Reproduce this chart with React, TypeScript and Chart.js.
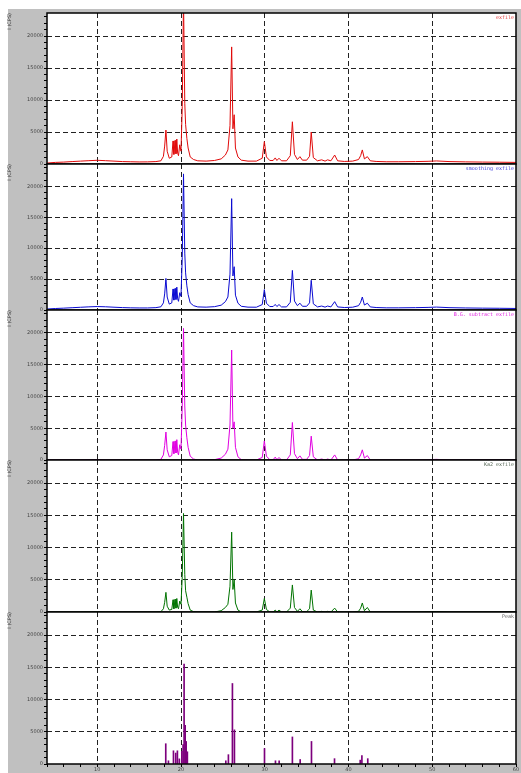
import React, { useEffect, useRef } from 'react';
import { Chart, registerables } from 'chart.js';

Chart.register(...registerables);
Chart.defaults.font.family = '"DejaVu Sans", sans-serif';

// 2θ (deg) sampling positions of the profiles
const twoTheta = [4, 5, 6, 7, 8, 9, 10, 11, 12, 13, 14, 15, 16, 17, 17.6, 17.9, 18.05, 18.2, 18.35, 18.6, 18.9, 19.05, 19.15, 19.3, 19.4, 19.5, 19.6, 19.7, 19.85, 20.0, 20.15, 20.3, 20.45, 20.55, 20.7, 20.85, 21.1, 21.5, 22, 23, 24, 24.8, 25.3, 25.6, 25.85, 26.05, 26.2, 26.35, 26.5, 26.8, 27.2, 28, 29, 29.7, 29.95, 30.2, 30.6, 31.0, 31.25, 31.45, 31.7, 32.0, 32.6, 33.05, 33.3, 33.55, 33.9, 34.2, 34.5, 35.0, 35.35, 35.55, 35.8, 36.3, 36.8, 37.2, 37.5, 37.9, 38.35, 38.7, 39.5, 40.5, 41.2, 41.45, 41.65, 41.9, 42.25, 42.6, 43.3, 44.5, 46, 48, 49.5, 50.5, 52, 54, 56, 58, 60];

const measured = [150, 250, 300, 380, 450, 520, 580, 520, 450, 380, 350, 320, 330, 380, 500, 1200, 2800, 5300, 2000, 900, 1100, 3600, 1500, 3700, 1600, 3900, 1700, 1300, 3000, 2000, 9000, 26000, 9500, 6200, 4000, 2500, 1100, 700, 500, 450, 550, 800, 1400, 2200, 6000, 18300, 5500, 7700, 2500, 1100, 600, 450, 450, 900, 3500, 1100, 550, 550, 950, 550, 900, 500, 500, 1300, 6600, 1500, 700, 1150, 600, 600, 1200, 5000, 1000, 500, 650, 450, 650, 500, 1400, 500, 400, 450, 700, 1300, 2200, 800, 1150, 500, 400, 350, 350, 380, 420, 480, 380, 330, 300, 280, 250];

const smoothed = [160, 240, 300, 370, 440, 510, 560, 520, 450, 390, 350, 330, 330, 380, 520, 1150, 2600, 5100, 2100, 950, 1150, 3400, 1600, 3500, 1700, 3700, 1800, 1400, 2800, 2200, 8500, 22000, 9200, 6000, 3900, 2500, 1150, 700, 500, 460, 540, 780, 1350, 2100, 5800, 18000, 5500, 7000, 2400, 1100, 600, 460, 450, 880, 3300, 1100, 560, 560, 900, 560, 880, 500, 500, 1250, 6400, 1450, 700, 1100, 600, 600, 1150, 4800, 1000, 500, 640, 460, 640, 500, 1350, 500, 400, 450, 700, 1250, 2100, 800, 1100, 500, 400, 350, 350, 380, 420, 470, 380, 330, 300, 280, 250];

const bgSubtracted = [0, 0, 0, 0, 0, 30, 50, 0, 0, 0, 0, 0, 0, 0, 100, 800, 2300, 4400, 1600, 500, 700, 2900, 1000, 3000, 1100, 3200, 1200, 800, 2400, 1700, 8500, 20700, 8500, 5500, 3500, 2000, 600, 150, 0, 0, 50, 300, 900, 1700, 5500, 17300, 5000, 6000, 2000, 500, 50, 0, 0, 400, 3000, 600, 50, 50, 450, 50, 400, 0, 0, 800, 5900, 1000, 200, 650, 100, 100, 700, 3750, 500, 0, 150, 0, 150, 0, 800, 0, 0, 0, 200, 800, 1600, 300, 700, 0, 0, 0, 0, 0, 50, 100, 0, 0, 0, 0, 0];

const ka2Removed = [0, 0, 0, 0, 0, 20, 40, 0, 0, 0, 0, 0, 0, 0, 50, 500, 1500, 3050, 900, 300, 400, 1900, 500, 2000, 600, 2100, 700, 500, 1700, 1200, 5500, 15300, 5800, 3300, 2300, 1300, 300, 50, 0, 0, 0, 200, 700, 1200, 4000, 12400, 3500, 5000, 1400, 300, 0, 0, 0, 300, 2100, 400, 0, 0, 300, 0, 300, 0, 0, 600, 4200, 700, 100, 500, 50, 50, 500, 3400, 300, 0, 100, 0, 100, 0, 600, 0, 0, 0, 100, 600, 1400, 200, 700, 0, 0, 0, 0, 0, 40, 80, 0, 0, 0, 0, 0];

// Peak list (stick pattern)
const peakPositions = [18.18, 18.5, 19.1, 19.37, 19.57, 19.8, 20.1, 20.25, 20.37, 20.5, 20.62, 20.76, 25.35, 25.66, 26.14, 26.38, 29.97, 31.28, 31.72, 33.3, 34.23, 35.58, 38.33, 41.4, 41.6, 42.3];
const peakHeights = [3150, 500, 2050, 1700, 2050, 800, 1950, 3000, 15500, 6000, 3500, 1900, 500, 1450, 12500, 5300, 2400, 500, 500, 4200, 700, 3500, 830, 600, 1300, 830];

const xTickLabels = [10, 20, 30, 40, 50, 60];
const yTickLabels = [0, 5000, 10000, 15000, 20000];
const yMinorTicks = [0, 1000, 2000, 3000, 4000, 5000, 6000, 7000, 8000, 9000, 10000, 11000, 12000, 13000, 14000, 15000, 16000, 17000, 18000, 19000, 20000, 21000, 22000, 23000];
const panelNames = ['exfile', 'smoothing exfile', 'B.G. subtract exfile', 'Ka2 exfile', 'Peak'];
const panelLineColors = ['rgb(225,10,10)', 'rgb(10,10,210)', 'rgb(225,0,225)', 'rgb(0,115,0)', 'rgb(125,0,125)'];
const panelNameColors = ['rgb(230,60,60)', 'rgb(60,60,220)', 'rgb(225,40,225)', '#556655', '#666666'];
const panelBounds = [13, 164, 310, 460, 612, 764];

const X_MIN = 4;
const X_MAX = 60;
const Y_MAX = 23600;

type PanelProps = { index: number };

function Panel({ index }: PanelProps) {
  const ref = useRef<HTMLCanvasElement | null>(null);
  const isLast = index === 4;
  const top = panelBounds[index];
  const h = panelBounds[index + 1] - top;
  const padTop = 4;
  const padBottom = isLast ? 0 : 4;
  const xAxisH = isLast ? 9 : 0;
  const canvasH = h + padTop + padBottom + xAxisH;

  useEffect(() => {
    if (!ref.current) return;
    const profiles = [measured, smoothed, bgSubtracted, ka2Removed];
    const color = panelLineColors[index];
    const framePlugin = {
      id: 'frame' + index,
      beforeDraw(chart: any) {
        const { ctx, chartArea: a } = chart;
        ctx.save();
        ctx.fillStyle = '#ffffff';
        ctx.fillRect(a.left, a.top, a.right - a.left, a.bottom - a.top);
        ctx.restore();
      },
      afterDraw(chart: any) {
        const { ctx, chartArea: a } = chart;
        ctx.save();
        ctx.strokeStyle = '#000';
        ctx.lineWidth = 1.5;
        ctx.strokeRect(a.left, a.top, a.right - a.left, a.bottom - a.top);
        ctx.fillStyle = panelNameColors[index];
        ctx.font = '5px "DejaVu Sans Mono", monospace';
        ctx.textAlign = 'right';
        ctx.textBaseline = 'top';
        ctx.fillText(panelNames[index], a.right - 2, a.top + 2);
        ctx.restore();
      },
    };

    const dataset: any = isLast
      ? {
          type: 'bar',
          data: peakPositions.map((x, i) => ({ x, y: peakHeights[i] })),
          backgroundColor: color,
          borderWidth: 0,
          barThickness: 1,
          grouped: false,
        }
      : {
          type: 'line',
          data: twoTheta.map((x, i) => ({ x, y: profiles[index][i] })),
          borderColor: color,
          borderWidth: 1,
          pointRadius: 0,
          tension: 0,
          fill: false,
        };

    const chart = new Chart(ref.current, {
      type: isLast ? 'bar' : 'line',
      data: { datasets: [dataset] },
      options: {
        responsive: false,
        maintainAspectRatio: false,
        animation: false,
        events: [],
        layout: { padding: { top: padTop, bottom: padBottom, left: 0, right: 5 } },
        plugins: { legend: { display: false }, tooltip: { enabled: false } },
        scales: {
          x: {
            type: 'linear',
            min: X_MIN,
            max: X_MAX,
            offset: false,
            afterFit: (s: any) => {
              s.height = xAxisH;
            },
            ticks: {
              display: isLast,
              stepSize: 2,
              autoSkip: false,
              maxRotation: 0,
              padding: 0,
              font: { size: 5 },
              color: '#444',
              callback: (v: any) => (xTickLabels.includes(Number(v)) ? String(v) : ''),
            },
            grid: {
              offset: false,
              color: (c: any) => {
                const v = c.tick ? c.tick.value : NaN;
                return v % 10 === 0 && v > X_MIN && v < X_MAX ? '#222' : 'transparent';
              },
              lineWidth: 1,
              drawTicks: isLast,
              tickLength: 3,
              tickColor: '#000',
            },
            border: { display: false, dash: [5, 3] },
          },
          y: {
            type: 'linear',
            min: 0,
            max: Y_MAX,
            afterBuildTicks: (s: any) => {
              s.ticks = yMinorTicks.map((v) => ({ value: v }));
            },
            afterFit: (s: any) => {
              s.width = 47;
            },
            ticks: {
              autoSkip: false,
              padding: 1,
              font: { size: 5 },
              color: '#444',
              callback: (v: any) => (yTickLabels.includes(Number(v)) ? String(v) : ''),
            },
            grid: {
              color: (c: any) => {
                const v = c.tick ? c.tick.value : NaN;
                return v > 0 && v % 5000 === 0 ? '#222' : 'transparent';
              },
              lineWidth: 1,
              drawTicks: true,
              tickLength: 3,
              tickColor: '#000',
            },
            border: { display: false, dash: [5, 3] },
            title: {
              display: true,
              text: 'I (CPS)',
              align: 'end',
              font: { size: 5 },
              color: '#333',
              padding: { top: 7, bottom: 0 },
            },
          },
        },
      } as any,
      plugins: [framePlugin],
    });
    return () => chart.destroy();
  }, []);

  return (
    <canvas
      ref={ref}
      width={521}
      height={canvasH}
      style={{ position: 'absolute', left: 0, top: top - padTop, width: 521, height: canvasH }}
    />
  );
}

export default function App() {
  return (
    <div style={{ position: 'fixed', left: 0, top: 0, width: 521, height: 773, background: '#ffffff', overflow: 'hidden' }}>
      <div style={{ position: 'absolute', left: 8, top: 9, width: 513, height: 764, background: '#c0c0c0' }} />
      {[0, 1, 2, 3, 4].map((i) => (
        <Panel key={i} index={i} />
      ))}
    </div>
  );
}
